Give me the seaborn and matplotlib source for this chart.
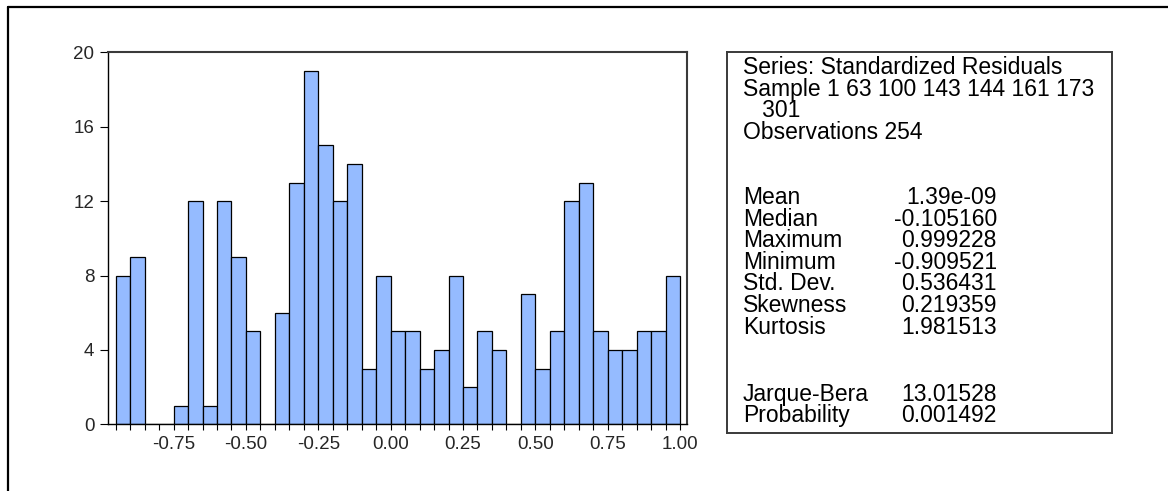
import numpy as np
import pandas as pd
import matplotlib
matplotlib.use("Agg")
import matplotlib.pyplot as plt
import seaborn as sns
from matplotlib.lines import Line2D

# Histogram data (bin width 0.05)
bin_starts = [-0.95, -0.90, -0.85, -0.80, -0.75, -0.70, -0.65, -0.60, -0.55, -0.50,
              -0.45, -0.40, -0.35, -0.30, -0.25, -0.20, -0.15, -0.10, -0.05, 0.00,
              0.05, 0.10, 0.15, 0.20, 0.25, 0.30, 0.35, 0.40, 0.45, 0.50,
              0.55, 0.60, 0.65, 0.70, 0.75, 0.80, 0.85, 0.90, 0.95]
bin_end = 1.00
counts = [8, 9, 0, 0, 1, 12, 1, 12, 9, 5,
          0, 6, 13, 19, 15, 12, 14, 3, 8, 5,
          5, 3, 4, 8, 2, 5, 4, 0, 7, 3,
          5, 12, 13, 5, 4, 4, 5, 5, 8]

x_tick_values = [-0.75, -0.50, -0.25, 0.00, 0.25, 0.50, 0.75, 1.00]
y_tick_values = [0, 4, 8, 12, 16, 20]

# Statistics panel text
header_lines = ["Series: Standardized Residuals",
                "Sample 1 63 100 143 144 161 173",
                "   301",
                "Observations 254"]
stat_names = ["Mean", "Median", "Maximum", "Minimum", "Std. Dev.", "Skewness", "Kurtosis"]
stat_values = ["1.39e-09", "-0.105160", "0.999228", "-0.909521", "0.536431", "0.219359", "1.981513"]
test_names = ["Jarque-Bera", "Probability"]
test_values = ["13.01528", "0.001492"]

sns.set_theme(style="white")
plt.rcParams['font.family'] = ['Liberation Sans', 'DejaVu Sans']

W, H = 1168, 491
fig = plt.figure(figsize=(W / 100, H / 100), dpi=100)
fig.patch.set_facecolor("white")

def px_axes(left, top, right, bottom):
    return fig.add_axes([left / W, 1 - bottom / H, (right - left) / W, (bottom - top) / H])

# Histogram
ax = px_axes(108.3, 52.3, 686.7, 424.3)
edges = [round(v, 2) for v in bin_starts + [bin_end]]
df = pd.DataFrame({"center": np.array(bin_starts) + 0.025, "count": counts})
sns.histplot(data=df, x="center", weights="count", bins=edges, ax=ax,
             color="#95BBFF", alpha=1.0, edgecolor="black", linewidth=0.9)

ax.set_xlim(-0.9756, 1.023)
ax.set_ylim(0, 20)
ax.set_xticks(x_tick_values)
ax.set_xticklabels([f"{v:.2f}" for v in x_tick_values])
ax.set_xticks(edges, minor=True)
ax.set_yticks(y_tick_values)
ax.set_yticklabels([str(v) for v in y_tick_values])
ax.set_xlabel("")
ax.set_ylabel("")
ax.tick_params(axis="x", which="both", direction="out", length=4.5, width=0.8,
               color="black", labelsize=13.5, pad=4, bottom=True)
ax.tick_params(axis="y", which="major", direction="out", length=6, width=0.8,
               color="black", labelsize=13.5, pad=4, left=True)
for side in ["left", "bottom"]:
    ax.spines[side].set_color("black")
    ax.spines[side].set_linewidth(1.0)
for side in ["top", "right"]:
    ax.spines[side].set_color("#3a3a3a")
    ax.spines[side].set_linewidth(1.5)
ax.grid(False)

# Statistics box
bx = px_axes(727, 52.3, 1112, 433)
bx.set_xlim(727, 1112)
bx.set_ylim(433, 52.3)
bx.set_xticks([])
bx.set_yticks([])
for s in bx.spines.values():
    s.set_color("#3a3a3a")
    s.set_linewidth(1.4)

label_x = 742.7
value_x = 997
pitch = 21.65
y0 = 67.5
fs = 16.5
for i, line in enumerate(header_lines):
    bx.text(label_x, y0 + i * pitch, line, fontsize=fs, va="center", ha="left", color="black")
row = len(header_lines) + 2
for name, val in zip(stat_names, stat_values):
    y = y0 + row * pitch
    bx.text(label_x, y, name, fontsize=fs, va="center", ha="left", color="black")
    bx.text(value_x, y, val, fontsize=fs, va="center", ha="right", color="black")
    row += 1
row += 2
for name, val in zip(test_names, test_values):
    y = y0 + row * pitch + 2
    bx.text(label_x, y, name, fontsize=fs, va="center", ha="left", color="black")
    bx.text(value_x, y, val, fontsize=fs, va="center", ha="right", color="black")
    row += 1

# Outer frame (top and left edges visible)
fig.add_artist(Line2D([8 / W, 1], [1 - 7 / H, 1 - 7 / H], transform=fig.transFigure,
                      color="black", linewidth=1.6))
fig.add_artist(Line2D([8 / W, 8 / W], [0, 1 - 7 / H], transform=fig.transFigure,
                      color="black", linewidth=1.6))

fig.savefig("out.png", dpi=100)
